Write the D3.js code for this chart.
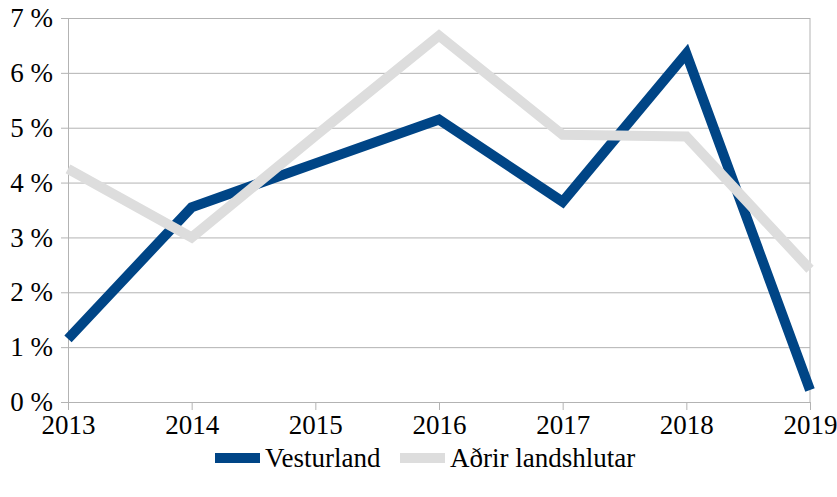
<!DOCTYPE html>
<html>
<head>
<meta charset="utf-8">
<script src="https://cdn.jsdelivr.net/npm/d3@7"></script>
<style>
  body { margin: 0; background: #fff; }
</style>
</head>
<body>
<svg width="837" height="497" font-family="Liberation Serif"></svg>
<script>
// chart data
var years = [2013, 2014, 2015, 2016, 2017, 2018, 2019];
var vesturland = [1.15, 3.55, 4.35, 5.15, 3.65, 6.35, 0.22];
var adrir = [4.25, 3.0, 4.85, 6.68, 4.87, 4.84, 2.42];
var yTicks = [0, 1, 2, 3, 4, 5, 6, 7];
var seriesNames = ['Vesturland', 'Aðrir landshlutar'];
var seriesColors = ['#004586', '#dddddd'];

var svg = d3.select('svg');
var padding = {t: 18, r: 27, b: 95, l: 68};
var width = +svg.attr('width') - padding.l - padding.r;
var height = +svg.attr('height') - padding.t - padding.b;

var g = svg.append('g')
    .attr('transform', 'translate(' + [padding.l, padding.t] + ')');

var xScale = d3.scalePoint()
    .domain(years)
    .range([0, width]);

var yScale = d3.scaleLinear()
    .domain([0, 7])
    .range([height, 0]);

// horizontal grid
g.append('g')
    .attr('class', 'grid')
    .call(d3.axisLeft(yScale).tickValues(yTicks).tickSize(-width).tickFormat(''))
    .call(function(s) { s.select('.domain').remove(); })
    .selectAll('.tick line')
    .attr('stroke', '#b3b3b3');

// y axis
var yAxis = g.append('g')
    .call(d3.axisLeft(yScale).tickValues(yTicks).tickSize(7).tickPadding(8)
        .tickFormat(function(d) { return d + ' %'; }));
yAxis.attr('font-family', 'Liberation Serif').attr('font-size', 27);
yAxis.select('.domain').attr('stroke', '#b3b3b3');
yAxis.selectAll('.tick line').attr('stroke', '#b3b3b3');
yAxis.selectAll('.tick text').attr('fill', '#000');

// right border line
g.append('line')
    .attr('x1', width).attr('x2', width)
    .attr('y1', 0).attr('y2', height)
    .attr('stroke', '#b3b3b3');

// x axis
var xAxis = g.append('g')
    .attr('transform', 'translate(0,' + height + ')')
    .call(d3.axisBottom(xScale).tickSize(8).tickPadding(5));
xAxis.attr('font-family', 'Liberation Serif').attr('font-size', 27);
xAxis.select('.domain').attr('stroke', '#b3b3b3');
xAxis.selectAll('.tick line').attr('stroke', '#b3b3b3');
xAxis.selectAll('.tick text').attr('fill', '#000');

var line = d3.line()
    .x(function(d, i) { return xScale(years[i]); })
    .y(function(d) { return yScale(d); });

// grey drawn after blue (on top)
[vesturland, adrir].forEach(function(vals, k) {
    g.append('path')
        .datum(vals)
        .attr('d', line)
        .attr('fill', 'none')
        .attr('stroke', seriesColors[k])
        .attr('stroke-width', 10)
        .attr('stroke-linejoin', 'miter');
});

// legend
var legendX = [215, 400];
var legend = svg.selectAll('.legend')
    .data(seriesNames)
    .enter()
    .append('g')
    .attr('class', 'legend')
    .attr('transform', function(d, i) { return 'translate(' + [legendX[i], 458] + ')'; });

legend.append('rect')
    .attr('x', 0).attr('y', -5)
    .attr('width', 45).attr('height', 10)
    .attr('fill', function(d, i) { return seriesColors[i]; });

legend.append('text')
    .attr('x', 50)
    .attr('dy', '0.35em')
    .attr('font-family', 'Liberation Serif')
    .attr('font-size', 27)
    .text(function(d) { return d; });
</script>
</body>
</html>
